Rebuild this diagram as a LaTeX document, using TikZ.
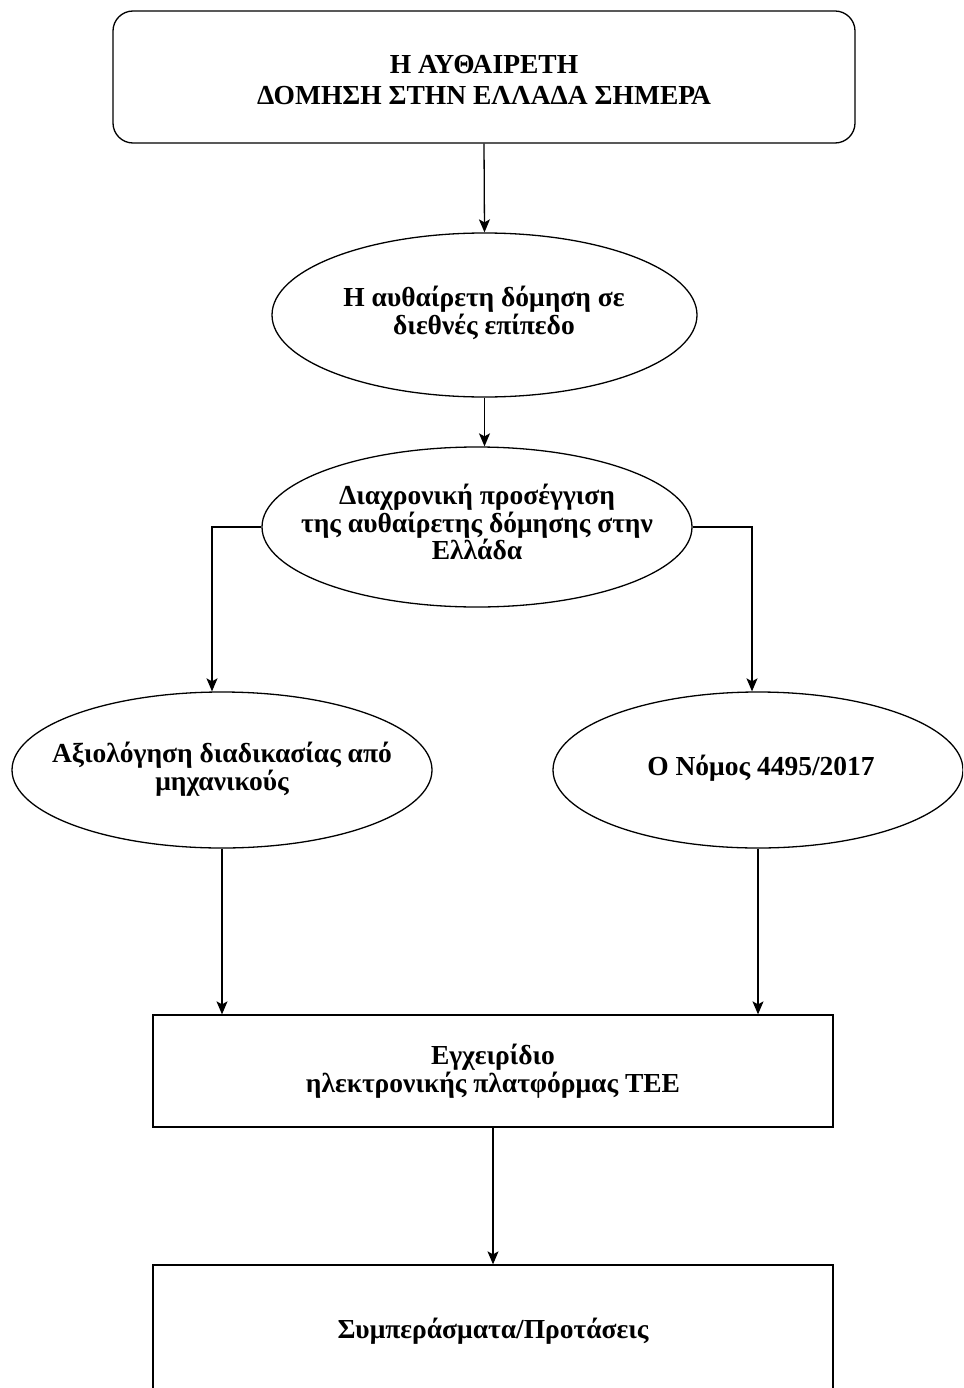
\documentclass[tikz,border=0pt]{standalone}
\usepackage{fontspec}
\setmainfont{Liberation Serif}
\usetikzlibrary{shapes.geometric,arrows.meta}

\begin{document}
\begin{tikzpicture}[x=1pt,y=-1pt,
  line width=1.3pt,
  lbl/.style={font=\fontsize{27.5}{27.5}\selectfont\bfseries, align=center, inner sep=0pt},
  toplbl/.style={lbl, font=\fontsize{27.5}{31.5}\selectfont\bfseries},
  ell/.style={draw, ellipse, inner sep=0pt},
  rbox/.style={draw, rectangle, rounded corners=20pt, inner sep=0pt},
  sbox/.style={draw, rectangle, inner sep=0pt},
  arr/.style={-{Stealth[length=13pt,width=11pt,inset=3pt]}}
]
\clip (0,0) rectangle (963,1388);

% shapes
\node[rbox, minimum width=742pt, minimum height=132pt] (top) at (484,77) {};
\node[ell, minimum width=425pt, minimum height=164pt] (e1) at (484.5,315) {};
\node[ell, minimum width=430pt, minimum height=160pt] (e2) at (477,527) {};
\node[ell, minimum width=420pt, minimum height=156pt] (e3) at (222,770) {};
\node[ell, minimum width=410pt, minimum height=156pt] (e4) at (758,770) {};
\node[sbox, minimum width=680pt, minimum height=112pt] (b5) at (493,1071) {};
\node[sbox, minimum width=680pt, minimum height=170pt] (b6) at (493,1350) {};

% labels
\node[toplbl] (t0) at (484,80) {Η ΑΥΘΑΙΡΕΤΗ\\ΔΟΜΗΣΗ ΣΤΗΝ ΕΛΛΑΔΑ ΣΗΜΕΡΑ};
\node[lbl] (t1) at (484,313) {Η αυθαίρετη δόμηση σε\\διεθνές επίπεδο};
\node[lbl] (t2) at (477,522) {Διαχρονική προσέγγιση\\της αυθαίρετης δόμησης στην\\Ελλάδα};
\node[lbl] (t3) at (222,769) {Αξιολόγηση διαδικασίας από\\μηχανικούς};
\node[lbl] (t4) at (761,768) {Ο Νόμος 4495/2017};
\node[lbl] (t5) at (493,1071) {Εγχειρίδιο\\ηλεκτρονικής πλατφόρμας ΤΕΕ};
\node[lbl] (t6) at (493,1331) {Συμπεράσματα/Προτάσεις};

% connectors
\draw[arr] (top.south) -- (e1.north);
\draw[arr] (e1.south) -- (e1.south |- e2.north);
\draw[arr] (e2.west) -| ([xshift=-10pt]e3.north);
\draw[arr] (e2.east) -| ([xshift=-6pt]e4.north);
\draw[arr] (e3.south) -- (e3.south |- b5.north);
\draw[arr] (e4.south) -- (e4.south |- b5.north);
\draw[arr] (b5.south) -- (b6.north);
\end{tikzpicture}
\end{document}
